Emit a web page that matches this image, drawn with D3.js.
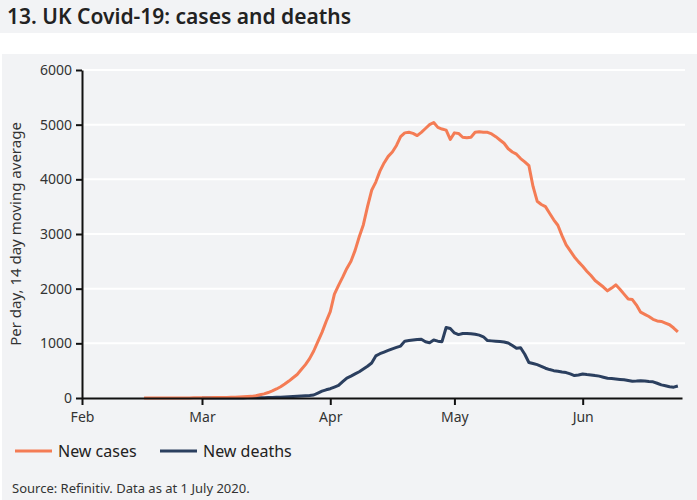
<!DOCTYPE html>
<html>
<head>
<meta charset="utf-8">
<script src="https://cdn.jsdelivr.net/npm/d3@7"></script>
<style>
  body { margin: 0; background: #fff; }
  svg { display: block; font-family: "Noto Sans", "Open Sans", sans-serif; }
</style>
</head>
<body>
<svg id="chart" width="697" height="500"></svg>
<script>
// daily values, 14 day moving average
let casesStart = new Date(2020, 1, 16)
let cases = [
  0, 0, 0, 0, 0, 0, 0, 1, 1, 1, 2, 2, 3, 3,
  4, 5, 6, 7, 8, 9, 10, 12, 14, 17, 21, 26,
  30, 42, 58, 75, 100, 130, 165, 205, 255, 310, 370, 430, 520, 610, 720, 860,
  1030, 1200, 1400, 1580, 1900, 2060, 2210, 2370, 2500, 2700, 2950, 3170, 3500, 3800,
  3950, 4150, 4300, 4420, 4500, 4620, 4780, 4850, 4860, 4840, 4800, 4860, 4930, 5000,
  5040, 4950, 4920, 4900, 4730, 4850, 4840, 4770, 4760, 4770, 4860, 4870, 4860, 4860,
  4830, 4780, 4720, 4660, 4560, 4500, 4460, 4380, 4320, 4250, 3870, 3600, 3540, 3500,
  3380, 3260, 3160, 2970, 2800, 2690, 2580, 2490, 2410, 2320, 2240, 2150, 2090, 2030,
  1960, 2010, 2070, 1990, 1900, 1810, 1800, 1700, 1570, 1530, 1490, 1440, 1410, 1400,
  1370, 1340, 1280, 1210
]
let deathsStart = new Date(2020, 2, 1)
let deaths = [
  0, 0, 0, 0, 0, 1, 1, 1, 1, 2, 2, 3,
  3, 4, 5, 6, 8, 10, 12, 15, 20, 24, 28, 32, 37, 42, 47, 55,
  90, 125, 150, 170, 200, 230, 300, 365, 400, 440, 480, 530, 580, 640,
  770, 810, 840, 870, 900, 925, 950, 1040, 1050, 1060, 1070, 1075, 1030, 1010,
  1060, 1040, 1030, 1290, 1270, 1190, 1160, 1180, 1180, 1175, 1165, 1150, 1120, 1050,
  1045, 1040, 1035, 1025, 1005, 960, 910, 920, 800, 650, 630, 610, 580, 545,
  520, 500, 490, 475, 465, 440, 410, 420, 440, 430, 422, 410, 400, 380,
  360, 355, 348, 340, 332, 320, 306, 310, 316, 310, 300, 296, 270, 240,
  225, 205, 198, 220
]
let monthTicks = [new Date(2020, 1, 1), new Date(2020, 2, 1), new Date(2020, 3, 1), new Date(2020, 4, 1), new Date(2020, 5, 1)]
let yTicks = [0, 1000, 2000, 3000, 4000, 5000, 6000]
let seriesNames = ['New cases', 'New deaths']
let seriesColors = ['#f47c55', '#2b3f5f']

let svg = d3.select('#chart')
let width = +svg.attr('width')
let height = +svg.attr('height')

// title band and panel
svg.append('rect').attr('x', 0).attr('y', 0).attr('width', width).attr('height', 33).attr('fill', '#f2f3f5')
svg.append('text').attr('x', 7).attr('y', 24)
  .attr('font-size', 21).attr('font-weight', 600).attr('fill', '#222')
  .text('13. UK Covid-19: cases and deaths')
svg.append('rect').attr('x', 2).attr('y', 54).attr('width', width - 2).attr('height', height - 54).attr('fill', '#f2f3f5')

function dayOf (start, i) {
  return d3.timeDay.offset(start, i)
}

let x = d3.scaleTime()
  .domain([new Date(2020, 1, 1), new Date(2020, 5, 25)])
  .range([82, 682])
let y = d3.scaleLinear().domain([0, 6000]).range([398, 70])

// grid
svg.append('g').selectAll('line')
  .data(yTicks.slice(1))
  .enter().append('line')
  .attr('x1', 82).attr('x2', 685)
  .attr('y1', function (d) { return y(d) }).attr('y2', function (d) { return y(d) })
  .attr('stroke', '#fff').attr('stroke-width', 2)

// lines
let line = d3.line()
  .x(function (d) { return x(d.date) })
  .y(function (d) { return y(d.value) })

let casesData = cases.map(function (v, i) { return { date: dayOf(casesStart, i), value: v } })
let deathsData = deaths.map(function (v, i) { return { date: dayOf(deathsStart, i), value: v } })

svg.append('path').datum(deathsData)
  .attr('d', line).attr('fill', 'none')
  .attr('stroke', seriesColors[1]).attr('stroke-width', 3).attr('stroke-linejoin', 'round')
svg.append('path').datum(casesData)
  .attr('d', line).attr('fill', 'none')
  .attr('stroke', seriesColors[0]).attr('stroke-width', 3).attr('stroke-linejoin', 'round')

// axes
let yAxis = svg.append('g')
  .attr('transform', 'translate(82,0)')
  .call(d3.axisLeft(y).tickValues(yTicks).tickFormat(d3.format('d')).tickSize(6).tickPadding(4).tickSizeOuter(0))
yAxis.select('.domain').attr('stroke', '#111').attr('stroke-width', 2)
yAxis.selectAll('.tick line').attr('stroke', '#111').attr('stroke-width', 2)
yAxis.selectAll('text').attr('font-size', 14).attr('fill', '#333').attr('font-family', '"Noto Sans", sans-serif')

let xAxis = svg.append('g')
  .attr('transform', 'translate(0,398)')
  .call(d3.axisBottom(x).tickValues(monthTicks).tickFormat(d3.timeFormat('%b')).tickSize(7).tickPadding(7).tickSizeOuter(0))
xAxis.select('.domain').attr('stroke', '#111').attr('stroke-width', 2)
xAxis.selectAll('.tick line').attr('stroke', '#111').attr('stroke-width', 2)
xAxis.selectAll('text').attr('font-size', 14).attr('fill', '#333').attr('font-family', '"Noto Sans", sans-serif')

svg.append('text')
  .attr('transform', 'translate(21,234) rotate(-90)')
  .attr('text-anchor', 'middle')
  .attr('font-size', 15).attr('fill', '#333')
  .text('Per day, 14 day moving average')

// legend
let legend = svg.append('g').selectAll('g')
  .data(seriesNames)
  .enter().append('g')
  .attr('transform', function (d, i) { return 'translate(' + (15 + i * 145) + ',451)' })
legend.append('line')
  .attr('x1', 0).attr('x2', 37).attr('y1', 0).attr('y2', 0)
  .attr('stroke', function (d, i) { return seriesColors[i] }).attr('stroke-width', 3)
legend.append('text')
  .attr('x', 43).attr('y', 6)
  .attr('font-size', 16).attr('fill', '#222')
  .text(function (d) { return d })

svg.append('text').attr('x', 12).attr('y', 493)
  .attr('font-size', 13).attr('fill', '#333')
  .text('Source: Refinitiv. Data as at 1 July 2020.')
</script>
</body>
</html>
